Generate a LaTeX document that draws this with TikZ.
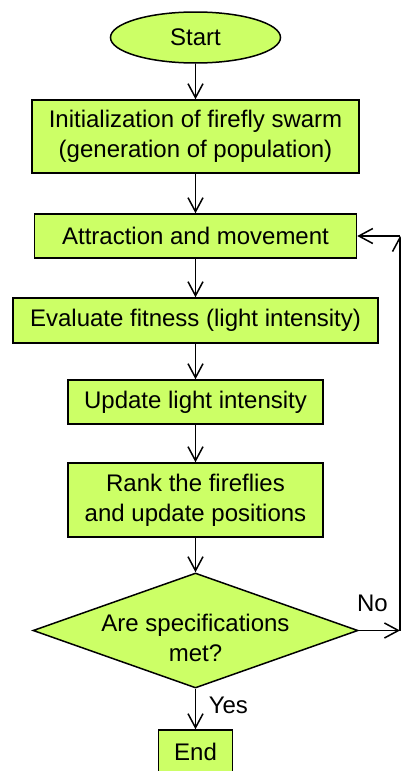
\documentclass[tikz,border=0pt]{standalone}
\usepackage{fontspec}
\setmainfont{Liberation Sans}
\usetikzlibrary{shapes.geometric,arrows.meta}
\definecolor{boxgreen}{RGB}{204,255,102}
\begin{document}
\begin{tikzpicture}[x=1pt,y=-1pt,
  every node/.style={font=\fontsize{24}{30}\selectfont},
  stepbox/.style={draw, fill=boxgreen, line width=1.5pt, inner sep=0pt, align=center},
  flow/.style={line width=1.5pt, -{Straight Barb[length=14pt,width=15pt]}},
  tag/.style={inner sep=0pt}]
  \useasboundingbox (0,0) rectangle (401,771);

  % flow steps
  \node[stepbox, ellipse, minimum width=170pt, minimum height=51pt] (start) at (195.5,37.5) {Start};
  \node[stepbox, minimum width=327pt, minimum height=73pt] (init) at (195.5,136.5)
    {Initialization of firefly swarm\\(generation of population)};
  \node[stepbox, minimum width=322pt, minimum height=44pt] (attr) at (195.5,236) {Attraction and movement};
  \node[stepbox, minimum width=365pt, minimum height=45pt] (eval) at (195.5,320.5) {Evaluate fitness (light intensity)};
  \node[stepbox, minimum width=255pt, minimum height=44pt] (upd) at (195.5,402) {Update light intensity};
  \node[stepbox, minimum width=255pt, minimum height=74pt] (rank) at (195.5,500)
    {Rank the fireflies\\and update positions};
  \node[stepbox, diamond, minimum width=325pt, minimum height=115pt,
        label={[align=center, yshift=-7pt]center:Are specifications\\met?}] (dec) at (195.5,630.5) {};
  \node[stepbox, minimum width=74pt, minimum height=44pt] (end) at (195.5,752) {End};

  % x position of the feedback line
  \coordinate (fbx) at (400,0);

  % main flow
  \draw[flow] (start) -- (init);
  \draw[flow] (init) -- (attr);
  \draw[flow] (attr) -- (eval);
  \draw[flow] (eval) -- (upd);
  \draw[flow] (upd) -- (rank);
  \draw[flow] (rank) -- (dec);
  \draw[flow] (dec) -- (end)
    node[tag, midway, anchor=west, xshift=12.5pt, yshift=3.5pt] {Yes};

  % feedback loop
  \draw[flow] (dec.east) -- (dec.east -| fbx)
    node[tag, midway, anchor=south, xshift=-7pt, yshift=18.5pt] {No};
  \draw[flow] (dec.east -| fbx) -- (attr.east -| fbx);
  \draw[flow] (attr.east -| fbx) -- (attr.east);
\end{tikzpicture}
\end{document}
